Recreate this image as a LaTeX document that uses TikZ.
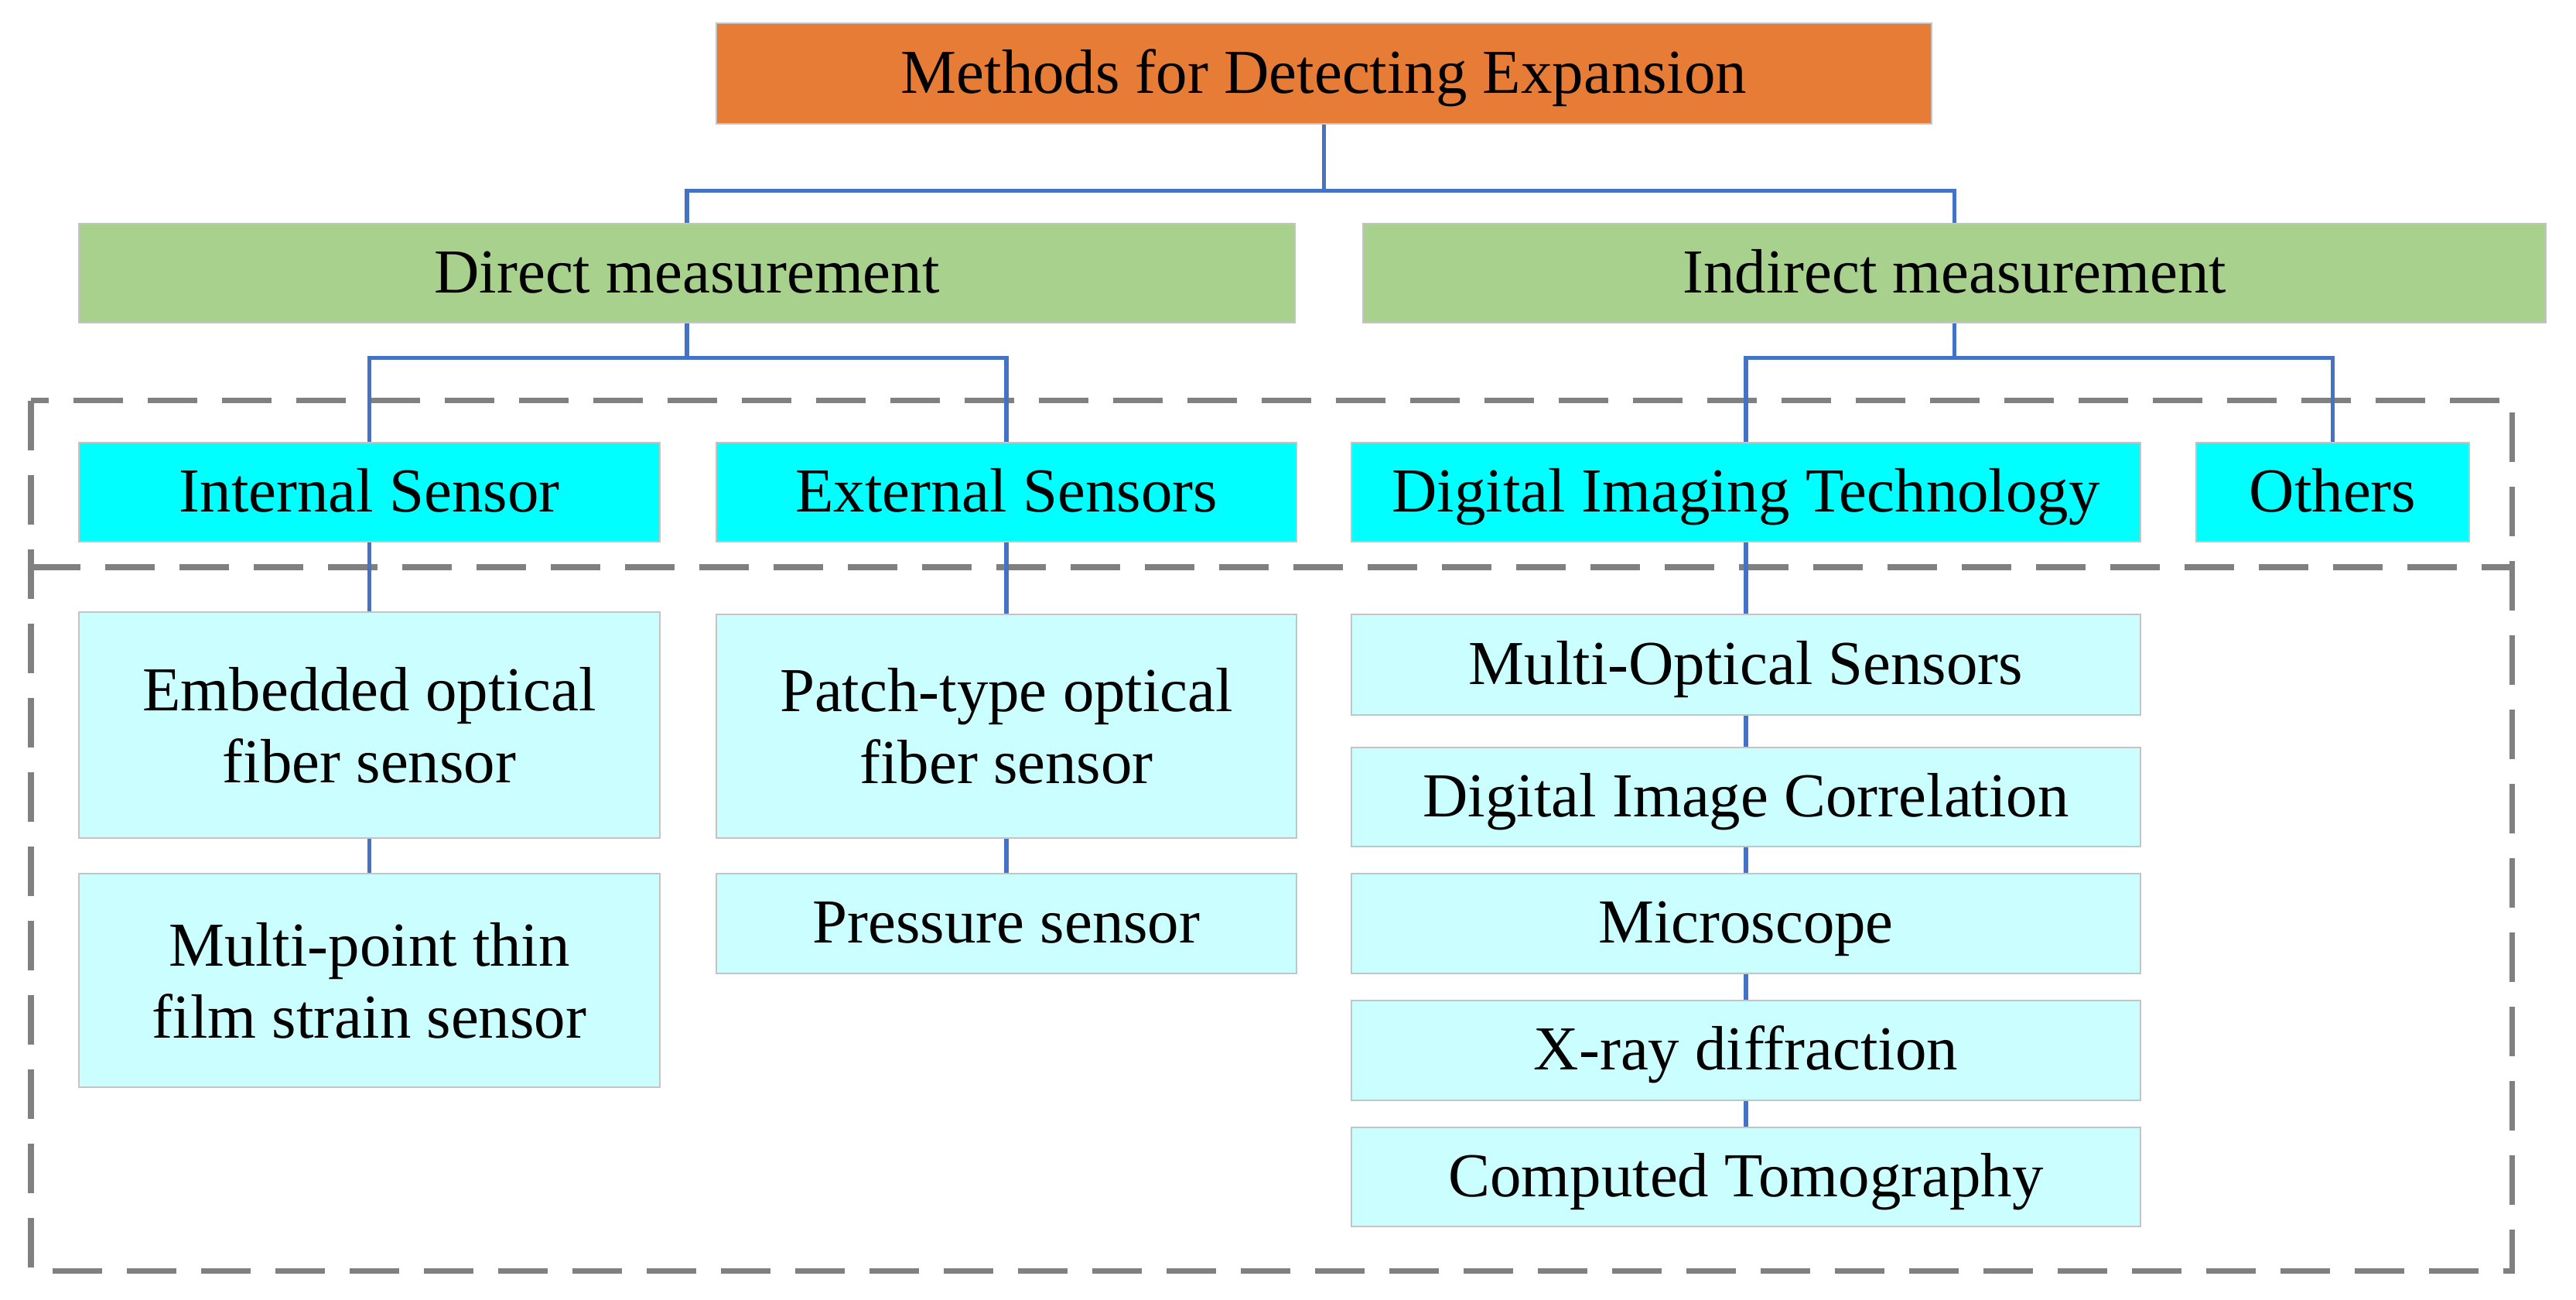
\documentclass[tikz,border=0pt]{standalone}
\usepackage{fontspec}
\setmainfont{Liberation Serif}
\definecolor{mainorange}{HTML}{E67C36}
\definecolor{levelgreen}{HTML}{A9D18E}
\definecolor{sensorcyan}{HTML}{00FFFF}
\definecolor{itemcyan}{HTML}{CBFFFF}
\definecolor{boxline}{HTML}{C4C4C4}
\definecolor{linkblue}{HTML}{4472C4}
\definecolor{frame}{HTML}{808080}
\begin{document}
\begin{tikzpicture}[
        box/.style={draw=boxline,line width=0.8pt,inner sep=0pt,align=center,font=\fontsize{23}{26.5}\selectfont},
        oneline/.style={text height=0.62cm,text depth=0.12cm},
        topbox/.style={box,oneline,fill=mainorange,minimum width=15.71cm,minimum height=1.30cm},
        levelbox/.style={box,oneline,fill=levelgreen,minimum height=1.28cm},
        sensorbox/.style={box,oneline,fill=sensorcyan,minimum height=1.28cm},
        itembox/.style={box,fill=itemcyan},
        link/.style={linkblue,line width=1.6pt},
        group/.style={frame,line width=2pt,dash pattern=on 0.64cm off 0.32cm}
    ]
            \useasboundingbox (0,0) rectangle (33.3,-16.8);

            \draw[group] (0.40,-5.175) rectangle (32.47,-16.42);
            \draw[group] (0.40,-7.33)--(32.47,-7.33);

            \node[topbox] (methods) at (17.115,-0.95) {Methods for Detecting Expansion};

            \node[levelbox,minimum width=15.72cm] (direct) at (8.88,-3.53) {Direct measurement};
            \node[levelbox,minimum width=15.29cm] (indirect) at (25.265,-3.53) {Indirect measurement};

            \node[sensorbox,minimum width=7.51cm] (internal) at (4.775,-6.36) {Internal Sensor};
            \node[sensorbox,minimum width=7.50cm] (external) at (13.01,-6.36) {External Sensors};
            \node[sensorbox,minimum width=10.20cm] (imaging) at (22.57,-6.36) {Digital Imaging Technology};
            \node[sensorbox,minimum width=3.53cm] (others) at (30.155,-6.36) {Others};

            \node[itembox,minimum width=7.51cm,minimum height=2.92cm] (embedded) at (4.775,-9.37) {Embedded optical\\fiber sensor};
            \node[itembox,minimum width=7.51cm,minimum height=2.76cm] (thinfilm) at (4.775,-12.67) {Multi-point thin\\film strain sensor};

            \node[itembox,minimum width=7.50cm,minimum height=2.89cm] (patch) at (13.01,-9.385) {Patch-type optical\\fiber sensor};
            \node[itembox,oneline,minimum width=7.50cm,minimum height=1.29cm] (pressure) at (13.01,-11.935) {Pressure sensor};

            \node[itembox,oneline,minimum width=10.20cm,minimum height=1.30cm] (multioptical) at (22.57,-8.59) {Multi-Optical Sensors};
            \node[itembox,oneline,minimum width=10.20cm,minimum height=1.28cm] (dic) at (22.57,-10.30) {Digital Image Correlation};
            \node[itembox,oneline,minimum width=10.20cm,minimum height=1.29cm] (microscope) at (22.57,-11.935) {Microscope};
            \node[itembox,oneline,minimum width=10.20cm,minimum height=1.29cm] (xray) at (22.57,-13.575) {X-ray diffraction};
            \node[itembox,oneline,minimum width=10.20cm,minimum height=1.28cm] (ct) at (22.57,-15.21) {Computed Tomography};

            \draw[link] (methods.south)--++(0,-0.85)-|(direct.north);
            \draw[link] (methods.south)--++(0,-0.85)-|(indirect.north);
            \draw[link] (direct.south)--++(0,-0.44)-|(internal.north);
            \draw[link] (direct.south)--++(0,-0.44)-|(external.north);
            \draw[link] (indirect.south)--++(0,-0.44)-|(imaging.north);
            \draw[link] (indirect.south)--++(0,-0.44)-|(others.north);

            \draw[link] (internal)--(embedded);
            \draw[link] (embedded)--(thinfilm);
            \draw[link] (external)--(patch);
            \draw[link] (patch)--(pressure);
            \draw[link] (imaging)--(multioptical);
            \draw[link] (multioptical)--(dic);
            \draw[link] (dic)--(microscope);
            \draw[link] (microscope)--(xray);
            \draw[link] (xray)--(ct);
        \end{tikzpicture}
\end{document}
